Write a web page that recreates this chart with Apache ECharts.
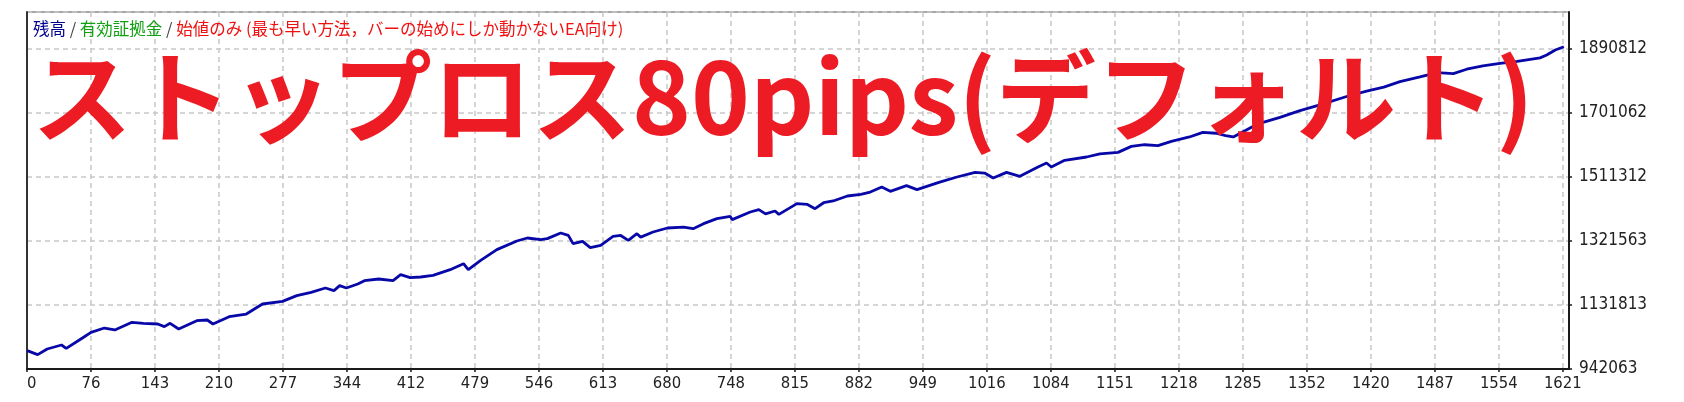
<!DOCTYPE html>
<html><head><meta charset="utf-8">
<script src="https://cdn.jsdelivr.net/npm/echarts@6/dist/echarts.min.js"></script>
<style>html,body{margin:0;padding:0;background:#fff}#c{width:1684px;height:402px}</style>
</head><body><div id="c"></div>
<script>
const xTickLabels = ['0','76','143','210','277','344','412','479','546','613','680','748','815','882','949','1016','1084','1151','1218','1285','1352','1420','1487','1554','1621'];
const yTickLabels = ['942063','1131813','1321563','1511312','1701062','1890812'];
const trades = [9,20,30,45,50,67,76,90,101,119,131,146,153,159,168,187,198,204,221,239,256,277,292,307,322,331,337,344,356,363,378,393,401,411,422,435,453,467,472,485,502,523,534,548,555,569,577,582,592,600,611,624,632,640,649,653,666,681,698,708,719,733,747,749,768,777,784,794,798,817,828,836,845,855,870,884,894,906,915,932,943,966,985,1004,1014,1023,1037,1051,1070,1079,1084,1098,1121,1135,1154,1168,1182,1196,1210,1229,1243,1257,1267,1275,1300,1324,1345,1366,1394,1415,1433,1450,1471,1489,1506,1520,1537,1555,1573,1597,1604,1613,1622];
const balance = [996400,984600,1001400,1013200,1003300,1034000,1050800,1063600,1057700,1080400,1077500,1075500,1067600,1077500,1060700,1085400,1087300,1075500,1097200,1105100,1134800,1142700,1159500,1169400,1182200,1174300,1189100,1182200,1194100,1204000,1208900,1204000,1221700,1212900,1214800,1219800,1236600,1254400,1236600,1264200,1295900,1321600,1330500,1325500,1328500,1345300,1338400,1313700,1320500,1301800,1308700,1335400,1338000,1323500,1343300,1333000,1348200,1360100,1363000,1358000,1373000,1387800,1394700,1385000,1407500,1414500,1402000,1410500,1400600,1432300,1430000,1417400,1435000,1440200,1455000,1460000,1466800,1481700,1468800,1485600,1473800,1495500,1511300,1525100,1523000,1508300,1525100,1513300,1541000,1552800,1541000,1560700,1570600,1580000,1584400,1602200,1607000,1604200,1617100,1630000,1643700,1641000,1634000,1630000,1668000,1688000,1708000,1725000,1750000,1766000,1778000,1793900,1807900,1820900,1817900,1830900,1840900,1847900,1853900,1864600,1873000,1887900,1897600];
const titleText = 'ストップロス80pips(デフォルト)';
const legendParts = ['残高', '有効証拠金', '始値のみ (最も早い方法，バーの始めにしか動かないEA向け)'];

const X_MIN = 8.8, X_STEP = 67.17, X_MAX = 1627.4;
const Y_MIN = 942063, Y_STEP = 189749.8, Y_MAX = 2000528;

function idx(v, min, step) {
  const k = (v - min) / step;
  const r = Math.round(k);
  return Math.abs(k - r) < 0.02 ? r : -1;
}

const chart = echarts.init(document.getElementById('c'), null, {renderer: 'canvas'});
const gridDash = {type: [5, 4], color: '#c8c8c8', width: 1.5};
chart.setOption({
  animation: false,
  backgroundColor: '#ffffff',
  grid: {left: 27, right: 115, top: 12, bottom: 33, show: true, borderColor: '#505050', borderWidth: 1, backgroundColor: 'transparent'},
  xAxis: {
    type: 'value', min: X_MIN, max: X_MAX, interval: X_STEP,
    axisLine: {show: true, onZero: false, lineStyle: {color: '#1a1a1a', width: 2}},
    axisTick: {show: true, length: 3, lineStyle: {color: '#1a1a1a', width: 1.5}},
    splitLine: {show: true, lineStyle: gridDash},
    axisLabel: {
      showMaxLabel: false, alignMinLabel: 'left', margin: 6,
      color: '#222', fontFamily: '"DejaVu Sans Condensed"', fontSize: 16.5,
      formatter: v => { const k = idx(v, X_MIN, X_STEP); return k >= 0 ? (xTickLabels[k] || '') : ''; }
    }
  },
  yAxis: [{
    type: 'value', position: 'right', min: Y_MIN, max: Y_MAX, interval: Y_STEP,
    axisLine: {show: true, lineStyle: {color: '#1a1a1a', width: 2}},
    axisTick: {show: true, length: 3, lineStyle: {color: '#1a1a1a', width: 1.5}},
    splitLine: {show: true, lineStyle: gridDash},
    axisLabel: {
      showMaxLabel: false, margin: 10,
      color: '#222', fontFamily: '"DejaVu Sans Condensed"', fontSize: 17,
      formatter: v => { const k = idx(v, Y_MIN, Y_STEP); return k >= 0 ? (yTickLabels[k] || '') : ''; }
    }
  }, {
    type: 'value', position: 'left', min: Y_MIN, max: Y_MAX, interval: Y_STEP,
    axisLine: {show: true, lineStyle: {color: '#333', width: 2}},
    axisTick: {show: false}, axisLabel: {show: false}, splitLine: {show: false}
  }],
  series: [{
    type: 'line', yAxisIndex: 0, showSymbol: false, symbol: 'none',
    data: trades.map((t, i) => [t, balance[i]]),
    lineStyle: {color: '#0808a8', width: 2.8}, z: 3
  }],
  graphic: [{
    type: 'text', z: 100,
    style: {
      x: 33, y: 29, verticalAlign: 'middle',
      text: '{a|' + legendParts[0] + '} {s|/} {b|' + legendParts[1] + '} {s|/} {c|' + legendParts[2] + '}',
      font: '16.5px "Noto Sans CJK JP"',
      rich: {
        a: {fill: '#00008f', font: '16.5px "Noto Sans CJK JP"'},
        b: {fill: '#10a010', font: '16.5px "Noto Sans CJK JP"'},
        c: {fill: '#f01010', font: '16.5px "Noto Sans CJK JP"'},
        s: {fill: '#444', font: '16.5px "Noto Sans CJK JP"'}
      }
    }
  }, {
    type: 'text', z: 101,
    style: {
      x: 32, y: 97, verticalAlign: 'middle',
      text: titleText,
      font: 'bold 100px "Noto Sans CJK JP"',
      fill: '#ed1c24'
    }
  }]
});
</script></body></html>
